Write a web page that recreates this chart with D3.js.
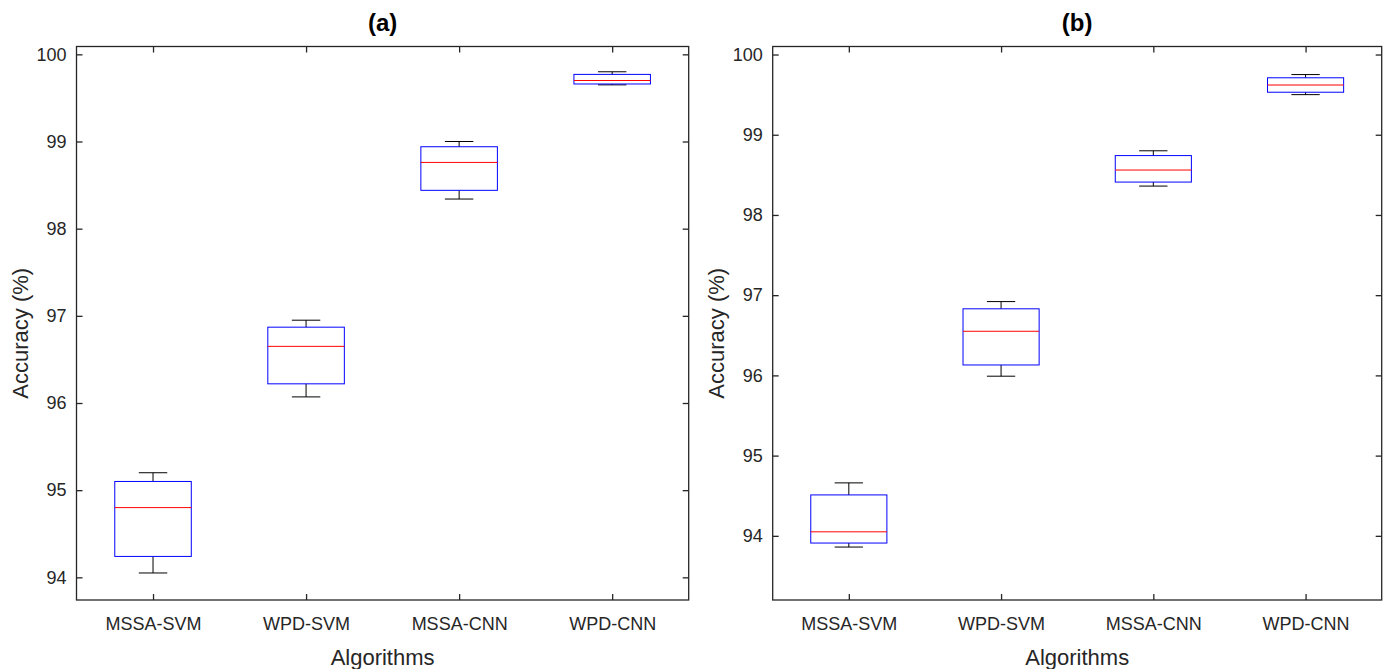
<!DOCTYPE html>
<html>
<head>
<meta charset="utf-8">
<script src="https://cdn.jsdelivr.net/npm/d3@7"></script>
<style>
  body { margin: 0; background: #fff; }
  svg text { font-family: "Liberation Sans", Arial, Helvetica, sans-serif; fill: #262626; }
  .axis-line { stroke: #262626; stroke-width: 1.3; fill: none; }
  .axis-title { font-size: 22px; }
  .panel-title { font-size: 24px; font-weight: bold; fill: #000; }
</style>
</head>
<body>
<svg id="mainCanvas" width="1390" height="669"></svg>
<script>
var algorithms = ['MSSA-SVM', 'WPD-SVM', 'MSSA-CNN', 'WPD-CNN'];

// box stats per algorithm: lower whisker, q1, median, q3, upper whisker
var lowA    = [94.05, 96.07, 98.34, 99.65];
var q1A     = [94.24, 96.22, 98.44, 99.66];
var medA    = [94.80, 96.65, 98.76, 99.70];
var q3A     = [95.10, 96.87, 98.94, 99.77];
var highA   = [95.20, 96.95, 99.00, 99.80];

var lowB    = [93.86, 95.99, 98.36, 99.50];
var q1B     = [93.91, 96.13, 98.41, 99.53];
var medB    = [94.05, 96.55, 98.56, 99.62];
var q3B     = [94.51, 96.83, 98.74, 99.71];
var highB   = [94.66, 96.92, 98.80, 99.75];

var yTicksA = [94, 95, 96, 97, 98, 99, 100];
var yTicksB = [94, 95, 96, 97, 98, 99, 100];

var svg = d3.select('#mainCanvas');

var buildRows = function(low, q1, med, q3, high) {
    return algorithms.map(function(name, i) {
        return { name: name, pos: i + 1, low: low[i], q1: q1[i], med: med[i], q3: q3[i], high: high[i] };
    });
};

var drawPanel = function(opt) {
    var left = opt.left, right = opt.right, top = 46.5, bottom = 600;
    var x = d3.scaleLinear().domain([0.5, 4.5]).range([left, right]);
    var y = d3.scaleLinear().domain(opt.yDomain).range([bottom, top]);
    var g = svg.append('g');
    var tickLen = 6;

    // axes (box style, ticks pointing inward)
    g.append('g').attr('transform', 'translate(0,' + bottom + ')')
        .call(d3.axisBottom(x).tickValues([1, 2, 3, 4]).tickSize(-tickLen).tickPadding(17)
            .tickFormat(function(d) { return algorithms[d - 1]; }))
        .call(function(a) { a.select('.domain').remove(); });
    g.append('g').attr('transform', 'translate(0,' + top + ')')
        .call(d3.axisTop(x).tickValues([1, 2, 3, 4]).tickSize(-tickLen).tickFormat(''))
        .call(function(a) { a.select('.domain').remove(); });
    g.append('g').attr('transform', 'translate(' + left + ',0)')
        .call(d3.axisLeft(y).tickValues(opt.yTicks).tickSize(-tickLen).tickPadding(10).tickFormat(d3.format('d')))
        .call(function(a) { a.select('.domain').remove(); });
    g.append('g').attr('transform', 'translate(' + right + ',0)')
        .call(d3.axisRight(y).tickValues(opt.yTicks).tickSize(-tickLen).tickFormat(''))
        .call(function(a) { a.select('.domain').remove(); });

    g.selectAll('.tick line').attr('stroke', '#262626').attr('stroke-width', 1.3);
    g.selectAll('.tick text').attr('fill', '#262626')
        .style('font-size', '18px').style('font-family', '"Liberation Sans", Arial, sans-serif');

    g.append('rect').attr('class', 'axis-line')
        .attr('x', left).attr('y', top)
        .attr('width', right - left).attr('height', bottom - top);

    var boxHalf = 0.25, capHalf = 0.093;
    var boxes = g.selectAll('.box').data(opt.rows).enter().append('g').attr('class', 'box');

    // whiskers
    boxes.append('line')
        .attr('x1', function(d) { return x(d.pos); }).attr('x2', function(d) { return x(d.pos); })
        .attr('y1', function(d) { return y(d.high); }).attr('y2', function(d) { return y(d.q3); })
        .attr('stroke', '#000').attr('stroke-width', 1);
    boxes.append('line')
        .attr('x1', function(d) { return x(d.pos); }).attr('x2', function(d) { return x(d.pos); })
        .attr('y1', function(d) { return y(d.q1); }).attr('y2', function(d) { return y(d.low); })
        .attr('stroke', '#000').attr('stroke-width', 1);
    // caps
    boxes.append('line')
        .attr('x1', function(d) { return x(d.pos - capHalf); }).attr('x2', function(d) { return x(d.pos + capHalf); })
        .attr('y1', function(d) { return y(d.high); }).attr('y2', function(d) { return y(d.high); })
        .attr('stroke', '#000').attr('stroke-width', 1);
    boxes.append('line')
        .attr('x1', function(d) { return x(d.pos - capHalf); }).attr('x2', function(d) { return x(d.pos + capHalf); })
        .attr('y1', function(d) { return y(d.low); }).attr('y2', function(d) { return y(d.low); })
        .attr('stroke', '#000').attr('stroke-width', 1);
    // box
    boxes.append('rect')
        .attr('x', function(d) { return x(d.pos - boxHalf); })
        .attr('width', function(d) { return x(d.pos + boxHalf) - x(d.pos - boxHalf); })
        .attr('y', function(d) { return y(d.q3); })
        .attr('height', function(d) { return y(d.q1) - y(d.q3); })
        .attr('fill', 'none').attr('stroke', '#0000ff').attr('stroke-width', 1);
    // median
    boxes.append('line')
        .attr('x1', function(d) { return x(d.pos - boxHalf); }).attr('x2', function(d) { return x(d.pos + boxHalf); })
        .attr('y1', function(d) { return y(d.med); }).attr('y2', function(d) { return y(d.med); })
        .attr('stroke', '#ff0000').attr('stroke-width', 1);

    // titles
    g.append('text').attr('class', 'panel-title')
        .attr('x', (left + right) / 2).attr('y', 31).attr('text-anchor', 'middle')
        .text(opt.title);
    g.append('text').attr('class', 'axis-title')
        .attr('x', (left + right) / 2).attr('y', 665).attr('text-anchor', 'middle')
        .text('Algorithms');
    g.append('text').attr('class', 'axis-title')
        .attr('transform', 'translate(' + (left - 49) + ',' + ((top + bottom) / 2 + 10) + ') rotate(-90)')
        .attr('text-anchor', 'middle')
        .text('Accuracy (%)');
};

drawPanel({
    left: 76.5, right: 688.7, yDomain: [93.74, 100.09], yTicks: yTicksA, title: '(a)',
    rows: buildRows(lowA, q1A, medA, q3A, highA)
});
drawPanel({
    left: 772.7, right: 1381.7, yDomain: [93.2, 100.1], yTicks: yTicksB, title: '(b)',
    rows: buildRows(lowB, q1B, medB, q3B, highB)
});
</script>
</body>
</html>
